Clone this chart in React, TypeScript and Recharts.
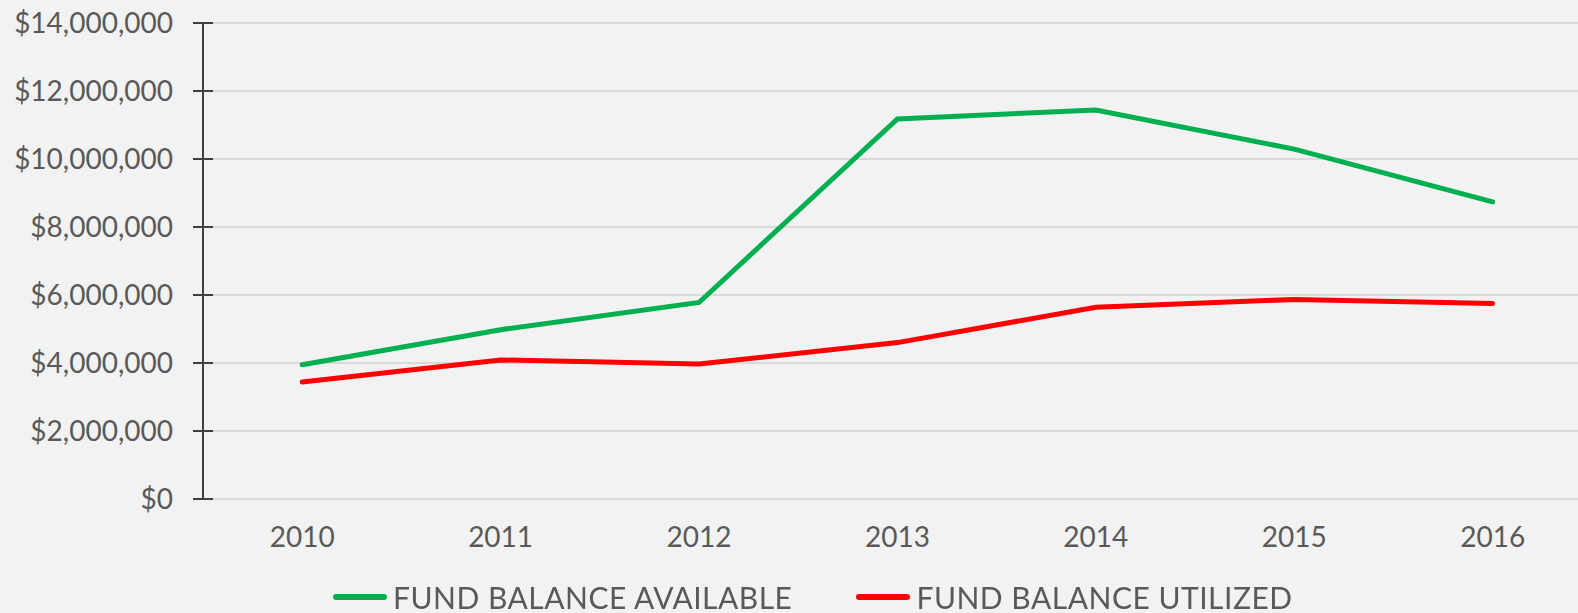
import React from "react";
import { LineChart, Line, XAxis, YAxis, CartesianGrid, Legend } from "recharts";

const years = [2010, 2011, 2012, 2013, 2014, 2015, 2016];
const available = [3950000, 4980000, 5780000, 11180000, 11440000, 10290000, 8740000];
const utilized = [3440000, 4090000, 3970000, 4600000, 5640000, 5870000, 5750000];
const yTicks = [0, 2000000, 4000000, 6000000, 8000000, 10000000, 12000000, 14000000];
const seriesNames = ["FUND BALANCE AVAILABLE", "FUND BALANCE UTILIZED"];
const seriesColors = ["#00b050", "#ff0000"];

const data = years.map((y, i) => ({ year: y, available: available[i], utilized: utilized[i] }));

const FONT = "Lato, 'Open Sans', sans-serif";
const fmt = (v: number) => "$" + v.toLocaleString("en-US");

const YTick = (props: any) => {
  const { x, y, payload } = props;
  return (
    <g>
      <line x1={x + 20} x2={x + 40} y1={y} y2={y} stroke="#404040" strokeWidth={2} />
      <text x={x} y={y} dy="0.36em" textAnchor="end" fill="#595959" fontSize={28} fontFamily={FONT}>
        {fmt(payload.value)}
      </text>
    </g>
  );
};

const LegendContent = () => (
  <div style={{ display: "flex", justifyContent: "flex-start", alignItems: "center", paddingLeft: 333, fontFamily: FONT }}>
    {seriesNames.map((n, i) => (
      <div key={n} style={{ display: "flex", alignItems: "center", marginRight: 64 }}>
        <div style={{ width: 54, height: 6, borderRadius: 3, background: seriesColors[i], marginRight: 6 }} />
        <span style={{ fontSize: 30, color: "#595959", letterSpacing: 0.5, lineHeight: "34px" }}>{n}</span>
      </div>
    ))}
  </div>
);

export default function App() {
  return (
    <div style={{ position: "fixed", left: 0, top: 0, width: 1578, height: 613, background: "#f2f2f2" }}>
      <LineChart width={1578} height={613} data={data} margin={{ top: 23, right: 0, left: 0, bottom: 0 }}>
        <CartesianGrid vertical={false} stroke="#d9d9d9" strokeWidth={2} />
        <XAxis
          dataKey="year"
          type="number"
          domain={[2009.5, 2016.43]}
          ticks={years}
          axisLine={false}
          tickLine={false}
          tickSize={0}
          tickMargin={28}
          height={114}
          tick={{ fill: "#595959", fontSize: 28, fontFamily: FONT }}
        />
        <YAxis
          width={203}
          domain={[0, 14000000]}
          ticks={yTicks}
          axisLine={{ stroke: "#404040", strokeWidth: 2 }}
          tickLine={false}
          tickSize={0}
          tickMargin={30}
          tick={<YTick />}
          interval={0}
        />
        <Legend
          layout="horizontal"
          verticalAlign="middle"
          align="center"
          content={<LegendContent />}
          wrapperStyle={{ top: 580, left: 0, width: 1578 }}
        />
        <Line dataKey="available" stroke={seriesColors[0]} strokeWidth={5} dot={false} strokeLinecap="round" isAnimationActive={false} />
        <Line dataKey="utilized" stroke={seriesColors[1]} strokeWidth={5} dot={false} strokeLinecap="round" isAnimationActive={false} />
      </LineChart>
    </div>
  );
}
